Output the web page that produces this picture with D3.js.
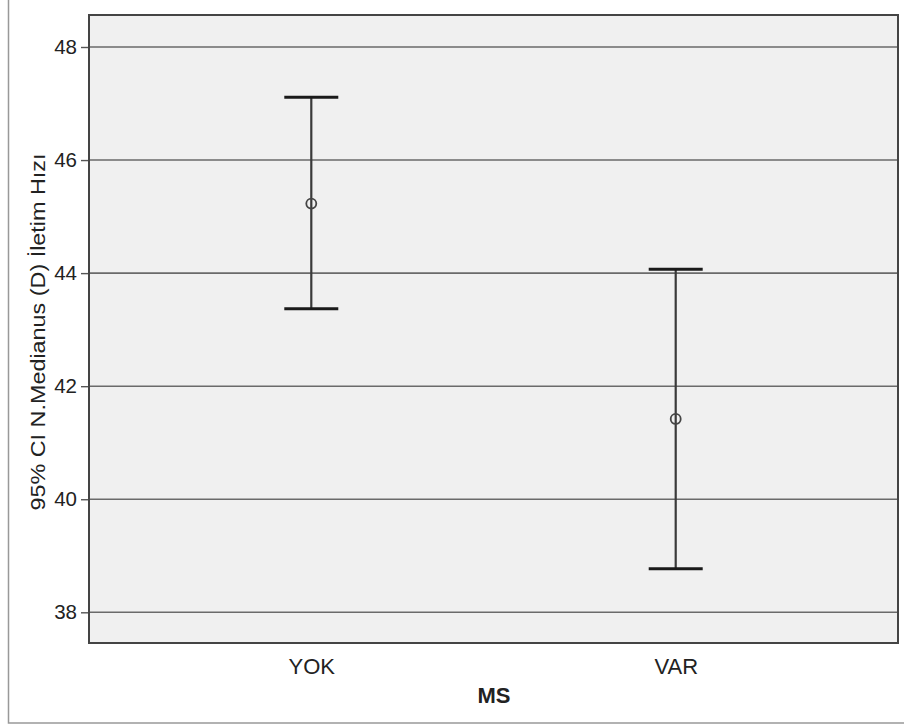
<!DOCTYPE html>
<html>
<head>
<meta charset="utf-8">
<script src="https://cdn.jsdelivr.net/npm/d3@7"></script>
<style>
  body { margin: 0; background: #fff; }
  svg { display: block; font-family: Arial, "Liberation Sans", sans-serif; }
</style>
</head>
<body>
<svg id="chart"></svg>
<script>
// groups and 95% CI values
const groups = ["YOK", "VAR"];
const means = [45.23, 41.42];
const lower = [43.37, 38.77];
const upper = [47.11, 44.07];
const yTicks = [38, 40, 42, 44, 46, 48];

const W = 904, H = 726;
const margin = {top: 15, right: 6, bottom: 83, left: 89};
const width = W - margin.left - margin.right;
const height = H - margin.top - margin.bottom;
const font = "Arial, 'Liberation Sans', sans-serif";

const svg = d3.select("#chart").attr("width", W).attr("height", H);

// outer frame (only left and bottom edges are inside the picture)
svg.append("rect")
  .attr("x", 8.5).attr("y", -5)
  .attr("width", 1000).attr("height", 728)
  .attr("fill", "none").attr("stroke", "#999").attr("stroke-width", 1.5);

const chart = svg.append("g")
  .attr("transform", `translate(${margin.left},${margin.top})`);

const x = d3.scalePoint().domain(groups).range([0, width]).padding(0.61);
const y = d3.scaleLinear().domain([37.457, 48.566]).range([height, 0]);

chart.append("rect")
  .attr("width", width).attr("height", height)
  .attr("fill", "#f0f0f0");

// grid lines
chart.selectAll(".grid").data(yTicks).join("line")
  .attr("class", "grid")
  .attr("x1", 0).attr("x2", width)
  .attr("y1", d => y(d)).attr("y2", d => y(d))
  .attr("stroke", "#6a6a6a").attr("stroke-width", 1.6);

// y axis
const yAxis = d3.axisLeft(y).tickValues(yTicks).tickSize(8).tickPadding(4);
const yAxisG = chart.append("g").call(yAxis);
yAxisG.select(".domain").remove();
yAxisG.selectAll(".tick line").attr("stroke", "#555").attr("stroke-width", 1.4);
yAxisG.selectAll(".tick text").attr("font-size", 20.5).attr("fill", "#222")
  .attr("font-family", font);

// x axis labels
const xAxis = d3.axisBottom(x).tickSize(0).tickPadding(15);
const xAxisG = chart.append("g").attr("transform", `translate(0,${height})`).call(xAxis);
xAxisG.select(".domain").remove();
xAxisG.selectAll(".tick text").attr("font-size", 22).attr("fill", "#222")
  .attr("font-family", font);

// error bars
const idx = d3.range(groups.length);
chart.selectAll(".stem").data(idx).join("line")
  .attr("x1", i => x(groups[i])).attr("x2", i => x(groups[i]))
  .attr("y1", i => y(upper[i])).attr("y2", i => y(lower[i]))
  .attr("stroke", "#3a3a3a").attr("stroke-width", 2.2);

const capW = 27;
[upper, lower].forEach(arr => {
  chart.selectAll(null).data(idx).join("line")
    .attr("x1", i => x(groups[i]) - capW).attr("x2", i => x(groups[i]) + capW)
    .attr("y1", i => y(arr[i])).attr("y2", i => y(arr[i]))
    .attr("stroke", "#1a1a1a").attr("stroke-width", 3);
});

chart.selectAll(".mean").data(idx).join("circle")
  .attr("cx", i => x(groups[i])).attr("cy", i => y(means[i]))
  .attr("r", 5)
  .attr("fill", "none").attr("stroke", "#444").attr("stroke-width", 1.8);

// plot border
chart.append("rect")
  .attr("width", width).attr("height", height)
  .attr("fill", "none").attr("stroke", "#444").attr("stroke-width", 2);

// axis titles
chart.append("text")
  .attr("x", 494 - margin.left).attr("y", height + 60)
  .attr("text-anchor", "middle")
  .attr("font-size", 22).attr("font-weight", "bold").attr("fill", "#222")
  .text("MS");

chart.append("text")
  .attr("transform", `translate(${45 - margin.left},${332 - margin.top}) rotate(-90)`)
  .attr("text-anchor", "middle")
  .attr("font-size", 21).attr("fill", "#222")
  .attr("textLength", 357).attr("lengthAdjust", "spacingAndGlyphs")
  .text("95% CI N.Medianus (D) İletim Hızı");
</script>
</body>
</html>
